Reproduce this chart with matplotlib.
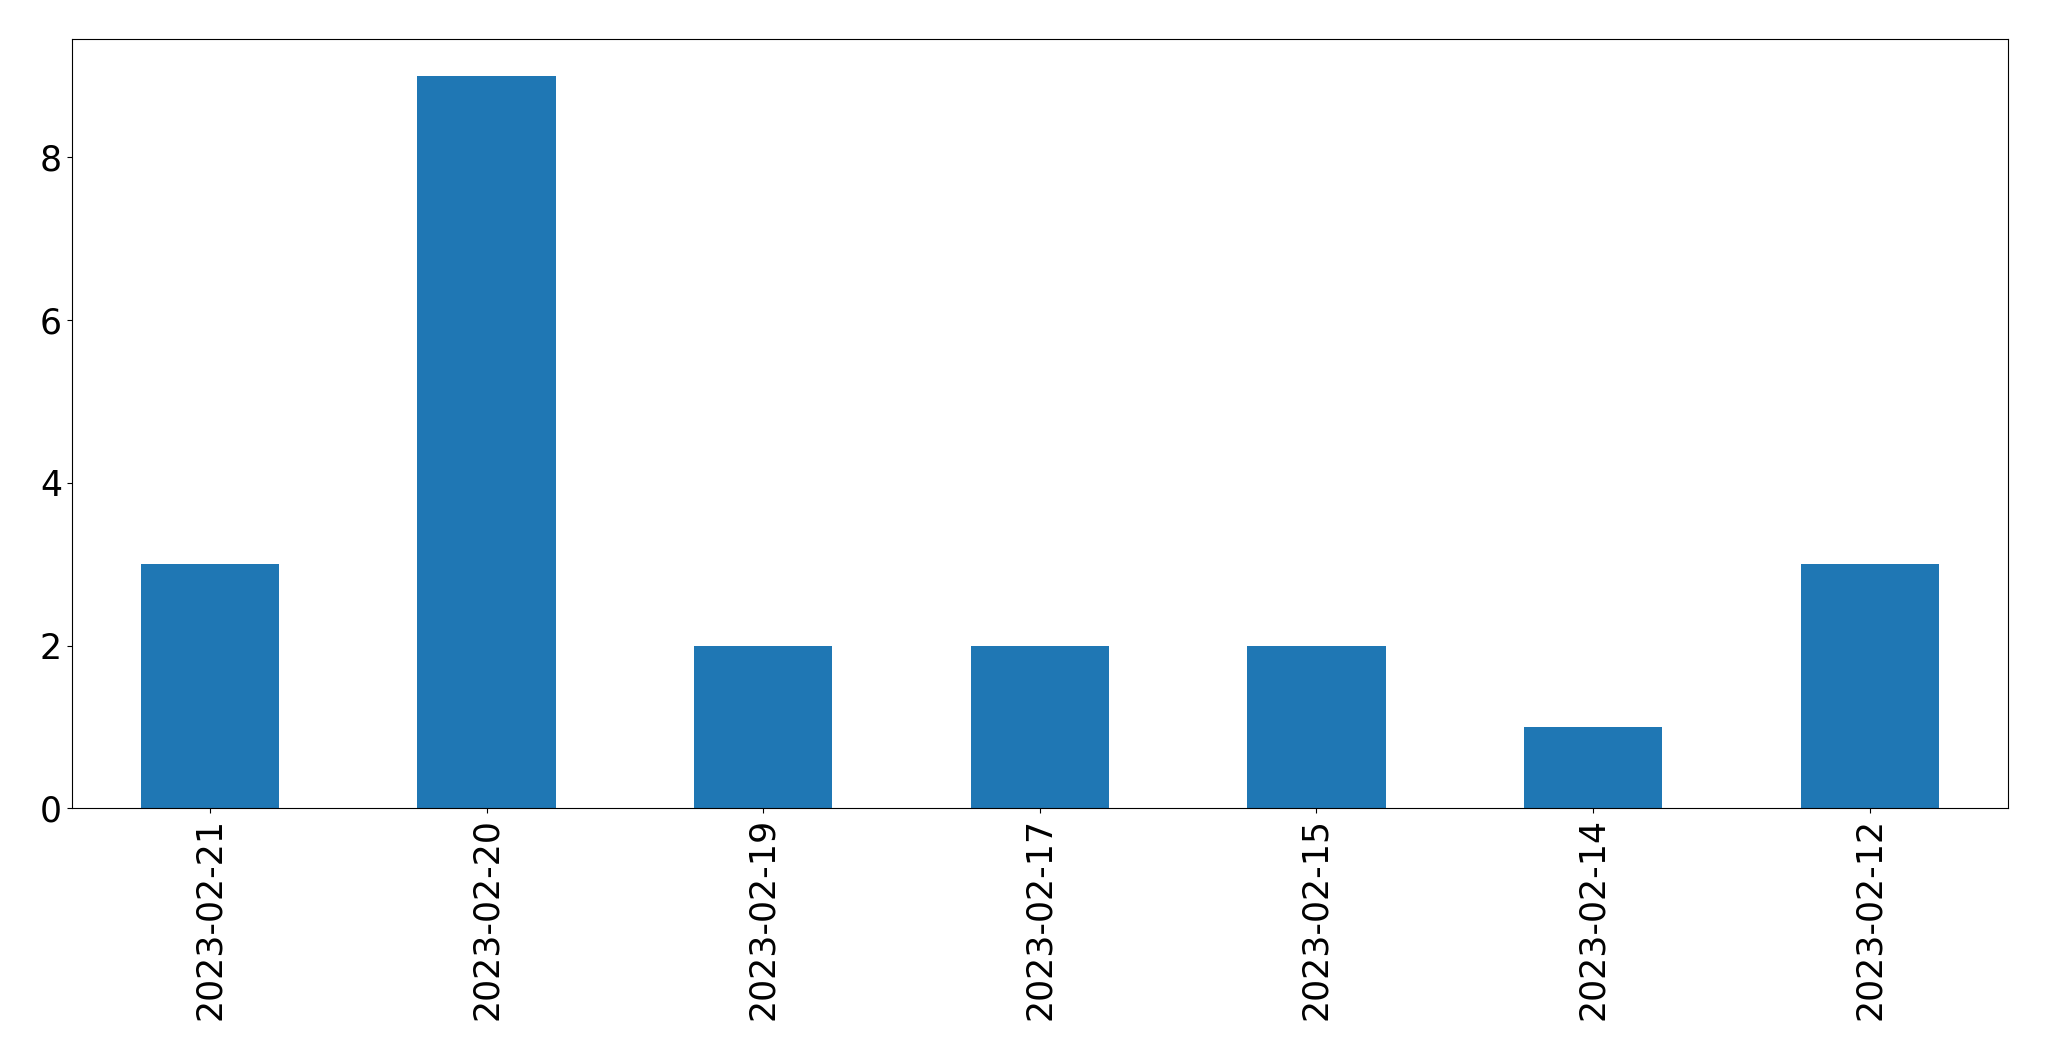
import matplotlib
matplotlib.use("Agg")
import matplotlib.pyplot as plt
import pandas as pd

dates = ["2023-02-21", "2023-02-20", "2023-02-19", "2023-02-17",
         "2023-02-15", "2023-02-14", "2023-02-12"]
counts = [3, 9, 2, 2, 2, 1, 3]

s = pd.Series(counts, index=dates)

fig, ax = plt.subplots(figsize=(20.49, 10.61), dpi=100)
s.plot(kind="bar", ax=ax, color="#1f77b4")
ax.tick_params(axis="both", labelsize=25)
fig.subplots_adjust(left=0.035, right=0.98, top=0.963, bottom=0.238)
fig.savefig("out.png", dpi=100)
